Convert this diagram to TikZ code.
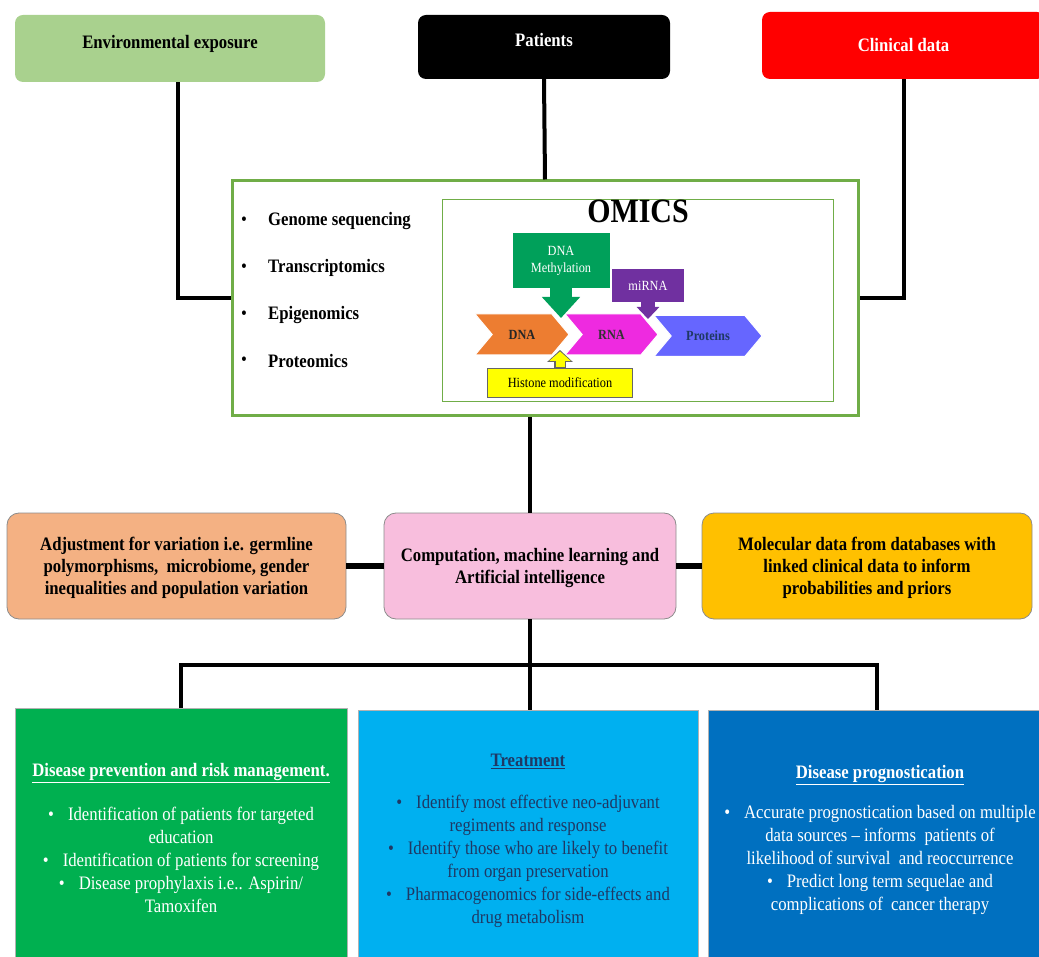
\documentclass[tikz,border=0pt]{standalone}
\usepackage{fontspec}
\setmainfont{Liberation Serif}[FakeStretch=0.88]
\usetikzlibrary{shapes.symbols,arrows.meta}

\definecolor{envgreen}{HTML}{A9D18E}
\definecolor{clinred}{HTML}{FF0000}
\definecolor{omicsgreen}{HTML}{70AD47}
\definecolor{methgreen}{HTML}{00A05A}
\definecolor{mirpurple}{HTML}{7030A0}
\definecolor{dnaorange}{HTML}{ED7D31}
\definecolor{rnapink}{HTML}{EE2AE0}
\definecolor{protblue}{HTML}{6666FF}
\definecolor{histyellow}{HTML}{FFFF00}
\definecolor{adjpeach}{HTML}{F4B183}
\definecolor{comppink}{HTML}{F8BEDD}
\definecolor{molgold}{HTML}{FFC000}
\definecolor{prevgreen}{HTML}{00B050}
\definecolor{treatblue}{HTML}{00B0F0}
\definecolor{prognblue}{HTML}{0070C0}
\definecolor{navy}{HTML}{1F3864}

\begin{document}
\begin{tikzpicture}[x=1pt,y=-1pt,
    topbox/.style={rectangle, rounded corners=8pt, inner sep=0pt,
        font=\fontsize{19}{23}\selectfont\bfseries},
    midbox/.style={rectangle, rounded corners=12pt, draw=black!45, line width=0.8pt,
        inner sep=0pt, align=center, minimum height=106, text depth=0pt,
        font=\fontsize{19}{22}\selectfont\bfseries},
    lowbox/.style={rectangle, inner sep=0pt, minimum height=257, draw=black!30, line width=0.6pt},
    lowtext/.style={inner sep=0pt, align=center, anchor=north,
        font=\fontsize{19}{23}\selectfont},
    chevron/.style={signal, signal to=east, signal from=west, signal pointer angle=100,
        inner sep=0pt, minimum height=41, draw=white, line width=1pt,
        font=\fontsize{14}{16}\selectfont\bfseries},
    tag/.style={rectangle, inner sep=0pt, align=center, text=white,
        font=\fontsize{14}{17}\selectfont},
    link/.style={line width=4pt},
    ]
    \useasboundingbox (0,0) rectangle (1039,957);

    % top row
    \node[topbox, fill=envgreen, minimum width=310, minimum height=67, text height=13pt, text depth=13pt] (env) at (170,48.5) {Environmental exposure};
    \node[topbox, fill=black, text=white, minimum width=252, minimum height=64, text height=12pt, text depth=13.5pt] (pat) at (544,47) {Patients};
    \node[topbox, fill=clinred, text=white, minimum width=283, minimum height=67] (clin) at (903.5,45.5) {Clinical data};

    % OMICS frame
    \node[rectangle, draw=omicsgreen, line width=3pt, fill=white, minimum width=626, minimum height=235] (omics) at (545,298.5) {};
    \node[rectangle, draw=omicsgreen, line width=1pt, minimum width=391, minimum height=202] (inner) at (637.5,301) {};
    \node[inner sep=0pt, anchor=base, font=\fontsize{34}{36}\selectfont\bfseries] (title) at (638,223) {OMICS};

    \foreach \lbl/\yy [count=\i] in {Genome sequencing/221, Transcriptomics/268, Epigenomics/315, Proteomics/361} {
        \node[inner sep=0pt, font=\fontsize{19}{20}\selectfont] (dot\i) at (244,\yy) {\textbullet};
        \node[inner sep=0pt, anchor=west, font=\fontsize{19}{23}\selectfont\bfseries] (item\i) at (268,\yy) {\lbl};
    }

    % DNA -> RNA -> Proteins
    \node[chevron, fill=dnaorange, minimum width=94, text=black!85] (dna) at (522,334.5) {DNA};
    \node[chevron, fill=rnapink, minimum width=93, text=black!80] (rna) at (611.5,334.5) {RNA};
    \node[chevron, fill=protblue, minimum width=108, text=navy] (prot) at (708,336) {Proteins};

    \node[tag, fill=methgreen, minimum width=97, minimum height=55] (meth) at (561,260.5) {DNA\\Methylation};
    \node[tag, fill=mirpurple, minimum width=72, minimum height=33] (mir) at (648,285.5) {miRNA};
    \node[tag, fill=histyellow, text=black, draw=black!60, line width=0.6pt, minimum width=145, minimum height=29] (hist) at (560,382.5) {Histone modification};

    \coordinate (methtip) at (561,318);
    \coordinate (mirtip) at (648,319);
    \coordinate (histtip) at (560,350);
    \draw[methgreen, line width=22pt, -{Triangle[length=21pt,width=37pt]}] (meth.south) -- (methtip);
    \draw[mirpurple, line width=14pt, -{Triangle[length=12pt,width=22pt]}] (mir.south) -- (mirtip);
    \draw[black!60, line width=11.5pt, -{Triangle[length=12pt,width=25pt]}] (hist.north) -- (histtip);
    \draw[histyellow, line width=9pt, -{Triangle[length=9.5pt,width=21pt]}] ([yshift=0.8pt]hist.north) -- ([yshift=-1.5pt]histtip);

    % middle row
    \node[midbox, fill=adjpeach, minimum width=339] (adj) at (176.5,566)
        {Adjustment for variation i.e. germline\\polymorphisms,\ \ microbiome, gender\\inequalities and population variation};
    \node[midbox, fill=comppink, minimum width=292] (comp) at (530,566)
        {Computation, machine learning and\\Artificial intelligence};
    \node[midbox, fill=molgold, minimum width=330] (mol) at (867,566)
        {Molecular data from databases with\\linked clinical data to inform\\probabilities and priors};

    % bottom row
    \node[lowbox, fill=prevgreen, minimum width=332] (prev) at (181,836.5) {};
    \node[lowbox, fill=treatblue, minimum width=340] (treat) at (528,838.5) {};
    \node[lowbox, fill=prognblue, minimum width=337] (progn) at (876.5,838.5) {};

    \node[lowtext, text=white] (prevtxt) at (181,763)
        {\textbf{\underline{Disease prevention and risk management.}}\\[21pt]
         \textbullet\hspace{14pt}Identification of patients for targeted\\
         education\\
         \textbullet\hspace{14pt}Identification of patients for screening\\
         \textbullet\hspace{14pt}Disease prophylaxis i.e.. Aspirin/\\
         Tamoxifen};
    \node[lowtext, text=navy] (treattxt) at (528,754)
        {\textbf{\underline{Treatment}}\\[19pt]
         \textbullet\hspace{14pt}Identify most effective neo-adjuvant\\
         regiments and response\\
         \textbullet\hspace{14pt}Identify those who are likely to benefit\\
         from organ preservation\\
         \textbullet\hspace{14pt}Pharmacogenomics for side-effects and\\
         drug metabolism};
    \node[lowtext, text=white] (progntxt) at (880,765)
        {\textbf{\underline{Disease prognostication}}\\[17pt]
         \textbullet\hspace{14pt}Accurate prognostication based on multiple\\
         data sources -- informs\ \ patients of\\
         likelihood of survival\ \ and reoccurrence\\
         \textbullet\hspace{14pt}Predict long term sequelae and\\
         complications of\ \ cancer therapy};

    % connectors
    \draw[link] ([xshift=8pt]env.south) |- (omics.west);
    \draw[link] (pat.south) -- (omics.north);
    \draw[link] (clin.south) |- (omics.east);
    \draw[link] (comp.north |- omics.south) -- (comp.north);
    \draw[line width=6pt] (adj.east) -- (comp.west);
    \draw[line width=6pt] (comp.east) -- (mol.west);

    \coordinate (bus) at (530,665);
    \draw[link] (comp.south) -- (bus);
    \draw[link] (prev.north) |- (bus) -| (progn.north);
    \draw[link] (bus) -- (bus |- treat.north);
\end{tikzpicture}
\end{document}
